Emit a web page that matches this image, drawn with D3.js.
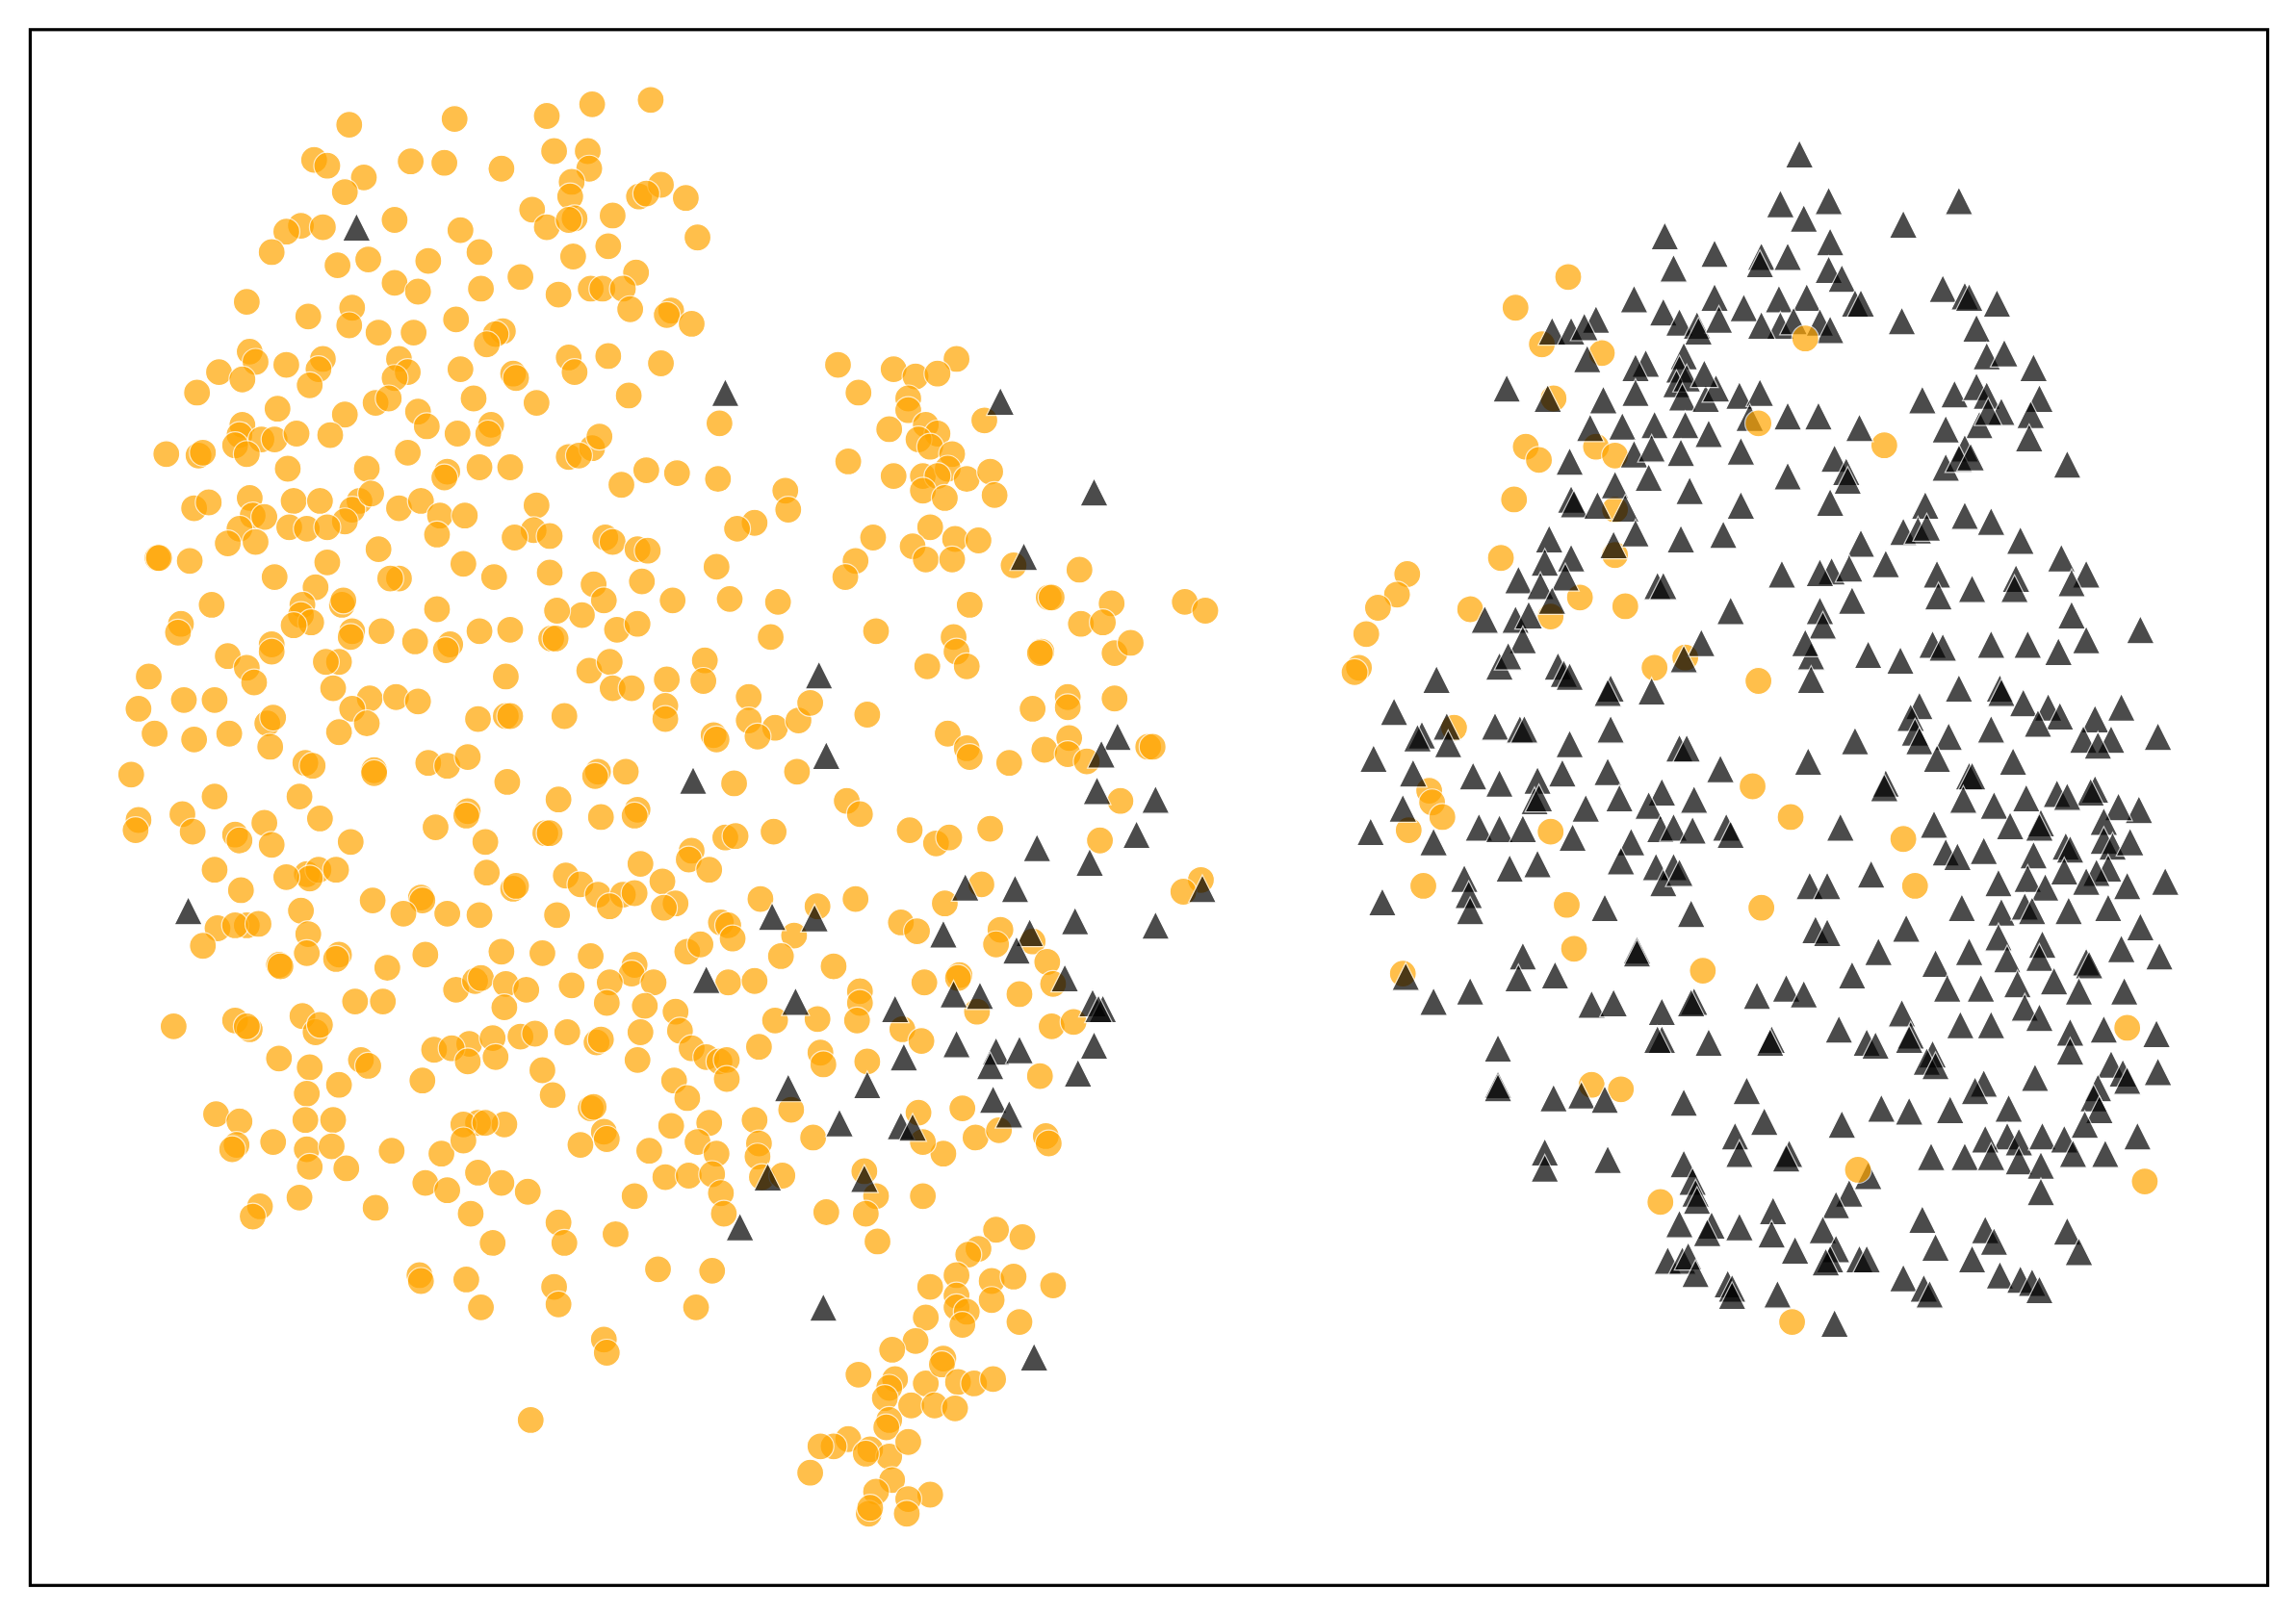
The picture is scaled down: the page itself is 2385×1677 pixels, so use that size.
<!DOCTYPE html>
<html>
<head>
<meta charset="utf-8">
<style>html,body{margin:0;padding:0;background:#fff}svg{display:block}</style>
<script src="https://cdn.jsdelivr.net/npm/d3@7"></script>
</head>
<body>
<script>
const classA = [
[444,68],[404,71],[373,79],[310,81],[238,85],[378,103],[401,103],[402,115],[214,109],[223,113],[280,110],[303,111],[342,115],[248,121],[235,131],[390,124],[389,134],[436,134],[451,126],[468,135],[441,132],[363,143],[418,147],[392,149],[373,155],[388,150],[269,150],[205,154],[195,158],[220,155],[314,157],[476,162],[185,172],[415,168],[327,172],[292,178],[230,181],[251,177],[391,175],[434,186],[269,193],[355,189],[328,197],[285,199],[381,201],[403,197],[411,197],[425,197],[168,206],[210,216],[240,210],[238,222],[430,211],[458,212],[455,215],[472,221],[311,218],[258,227],[282,227],[343,226],[338,228],[332,235],
[170,240],[174,247],[149,254],[165,259],[195,249],[220,245],[217,252],[211,263],[272,245],[278,254],[269,258],[388,244],[392,254],[415,243],[451,248],[350,255],[352,258],[314,252],[134,268],[189,279],[235,283],[256,275],[265,272],[285,281],[291,291],[323,272],[366,275],[429,270],[572,249],[586,268],[610,252],[625,257],[653,245],[640,255],[620,272],[620,280],[491,289],[672,287],
[165,290],[163,297],[160,304],[178,300],[187,300],[202,296],[225,297],[312,296],[335,290],[333,296],[168,310],[113,310],[135,311],[138,309],[250,320],[196,320],[305,322],[303,326],[327,319],[348,319],[388,312],[404,306],[409,298],[395,311],[278,309],[607,293],[632,290],[640,296],[627,300],[635,305],[650,310],[579,315],[441,321],[424,331],[462,323],[490,327],[610,325],
[630,325],[647,320],[640,325],[630,335],[660,327],[676,322],[645,340],[679,338],[536,335],[538,348],[132,347],[142,343],[200,342],[170,340],[218,342],[245,342],[240,348],[253,337],[272,347],[287,342],[300,352],[366,345],
[172,352],[180,353],[163,361],[155,371],[174,370],[197,360],[209,361],[235,356],[223,360],[317,352],[364,362],[351,367],[375,366],[515,357],[503,361],[635,360],[596,367],
[107,381],[108,381],[129,383],[187,394],[223,384],[258,375],[316,385],[298,365],[337,394],[375,391],[413,367],[418,370],[435,375],[442,376],[489,387],[584,383],[577,394],[623,373],[632,382],[652,368],[668,369],[650,382],[692,386],[737,389],
[215,401],[206,413],[272,395],[266,395],[144,413],[123,426],[121,432],[233,413],[234,410],[298,416],[205,420],[212,425],[405,399],[438,397],[412,410],[397,420],[380,417],[459,410],[498,409],[531,411],[662,413],[716,408],[718,408],[809,411],[823,417],[759,412],[738,426],[753,425],
[155,448],[185,440],[185,445],[200,427],[240,431],[239,435],[260,431],[283,438],[307,440],[304,444],[327,431],[348,430],[376,436],[379,436],[421,430],[435,426],[526,435],[598,431],[651,435],[653,445],[660,455],[633,455],[711,445],[710,446],[761,446],[772,439],
[101,462],[168,456],[231,452],[222,452],[173,466],[125,478],[146,478],[94,484],[227,470],[252,477],[270,476],[285,479],[345,462],[402,458],[416,452],[418,470],[431,470],[455,464],[481,451],[480,465],[454,482],[454,491],[511,476],[729,476],[761,477],[729,483],[705,484],
[182,494],[186,490],[240,484],[250,494],[326,491],[345,489],[348,489],[385,489],[592,488],[511,492],[529,497],[545,492],[553,480],[487,502],[489,505],[517,503],[647,501],[730,504],[105,501],[132,505],[156,501],[184,510],[231,500],
[660,511],[662,517],[713,512],[729,515],[742,520],[784,510],[787,510],[689,521],[544,527],
[89,529],[208,521],[213,523],[255,526],[292,521],[305,523],[319,517],[346,534],[408,527],[427,527],[406,530],[501,535],[255,528],
[146,544],[204,544],[381,546],[578,547],[587,556],[765,547],[124,556],[94,560],[92,567],[131,568],[180,562],[218,559],[319,554],[318,557],[297,565],[410,558],[435,553],[433,557],
[372,569],[375,569],[495,572],[502,571],[528,568],[621,567],[639,576],[648,572],[676,566],[751,574],[160,570],[163,574],[185,577],[239,575],[331,575],
[472,581],[470,587],[146,594],[209,597],[217,594],[229,594],[211,600],[332,596],[386,598],[396,604],[408,611],[437,590],[484,594],[452,602],[820,601],[808,609],[670,604],
[164,608],[287,613],[254,615],[350,607],[352,605],[425,611],[433,610],[519,614],[558,619],[584,614],[416,619],[461,617],[288,615],[195,599],
[168,632],[148,634],[160,632],[176,631],[205,622],[210,638],[275,624],[305,624],[327,625],[380,625],[453,620],[492,630],[497,632],[542,639],[615,630],[626,636],[645,617],[683,635],
[138,646],[190,659],[191,660],[209,651],[231,652],[229,655],[264,661],[290,652],[342,650],[370,651],[403,653],[469,650],[478,645],[500,641],[533,653],[569,660],[680,645],[705,643],[715,657],[655,666],[654,668],
[433,659],[431,665],[416,671],[311,676],[324,670],[328,668],[345,672],[359,676],[390,673],[446,671],[497,671],[515,670],[587,677],[631,671],
[242,684],[261,684],[344,688],[414,685],[440,687],[719,672],[696,679],[587,685],[558,696],[667,691],[118,701],[160,697],[170,703],[168,701],[206,694],[215,705],[218,700],[461,691],[529,697],
[296,717],[320,713],[336,709],[355,708],[365,706],[387,705],[407,712],[410,710],[437,705],[464,704],[472,716],[518,715],[585,697],[616,703],[629,711],[718,701],[733,698],
[190,723],[246,724],[251,728],[308,716],[319,725],[338,722],[370,731],[435,724],[482,722],[491,725],[496,724],[560,719],[562,727],[592,725],
[211,729],[231,741],[209,747],[288,738],[377,748],[460,738],[469,750],[496,737],[710,735],
[147,761],[163,766],[403,757],[405,756],[344,768],[326,767],[316,768],[331,767],[412,773],[458,769],[484,767],[515,765],[540,758],[627,760],[657,757],
[161,782],[158,785],[208,765],[227,765],[209,785],[226,783],[186,780],[267,786],[301,788],[316,779],[396,782],[443,786],[476,780],[414,778],[489,788],[518,781],[517,790],[555,777],[644,788],[630,780],[666,777],[682,772],[714,776],[716,781],
[211,797],[236,798],[326,801],[342,808],[360,814],[290,808],[305,813],[454,804],[470,803],[486,802],[492,815],[520,804],[534,803],[590,800],[598,817],[630,817],
[177,824],[172,831],[204,818],[256,825],[321,829],[433,817],[381,835],[385,849],[336,849],[420,843],[494,829],[564,828],[591,829],[599,848],
[680,840],[698,845],[668,853],[661,857],[653,871],[449,867],[486,868],[286,871],[287,875],[318,874],[378,879],[381,891],[328,893],[475,893],
[653,885],[635,879],[677,875],[692,872],[719,878],[677,888],[653,893],[660,896],[632,900],[657,905],[696,903],
[412,915],[414,924],[625,916],[609,922],[644,928],[632,945],[643,932],[611,942],[586,939],[607,948],[654,944],[665,945],[678,942],[604,955],[622,960],[638,960],[652,962],[362,970],[607,970],[605,975],[579,983],[569,988],[560,988],[553,1006],[594,990],[607,995],[591,993],[609,1011],[620,985],[598,1019],[635,1021],[620,1024],[619,1034],[593,1034],[594,1030],
[1035,210],[1053,235],[1094,241],[1061,272],[1090,305],[1042,305],[1051,314],[1287,304],[1103,311],[1034,341],[1103,348],[1103,379],[1025,381],[961,392],[954,406],[941,415],[933,433],[928,456],[925,459],[1004,416],[1079,408],[1110,414],[1059,421],[1130,456],[1151,449],[1201,465],[993,497],[976,540],[978,548],[985,558],[962,567],[972,605],[1059,568],[1197,537],[1223,558],[1300,573],[1308,605],[1203,620],[1070,618],[1075,648],[1163,663],[958,665],[1087,741],[1107,744],[1134,821],[1224,903]
];

const classB = [
[243,155],[495,268],[683,274],[747,336],[699,380],[559,461],[763,503],[564,516],[473,533],[752,515],[749,540],[789,546],[776,570],[708,579],[744,589],[659,606],[693,607],[821,607],[128,622],[527,626],[556,627],[789,632],[734,629],[703,637],[644,638],[694,649],[482,669],[727,668],[651,679],[669,680],[543,684],[611,689],[746,685],[753,689],[750,689],[653,713],[617,722],[680,718],[747,714],[696,717],[676,728],[736,733],[592,741],[538,743],[678,751],[689,761],[573,767],[615,769],[623,770],[524,804],[590,805],[505,838],[562,893],[706,927],
[1229,105],[1216,139],[1249,137],[1338,137],[1300,153],[1137,161],[1232,149],[1171,173],[1203,175],[1221,175],[1143,183],[1250,165],[1249,184],[1258,190],[1202,180],[1116,204],[1171,203],[1191,210],[1215,204],[1234,203],[1327,197],[1342,202],[1345,203],[1364,207],[1267,207],[1271,207],[1299,219],[1136,213],[1147,220],[1159,222],[1174,218],[1160,226],[1090,218],[1060,226],[1073,226],[1082,223],[1216,222],[1203,222],[1225,219],[1243,220],[1250,225],[1350,224],[1357,243],[1369,241],[1389,251],[1084,245],[1124,248],[1150,243],[1147,252],[1117,251],[1145,262],[1152,258],[1029,265],[1057,272],[1095,273],[1117,268],[1149,271],[1165,272],[1172,265],[1188,270],[1202,268],[1164,255],[1313,273],[1335,269],[1350,264],[1357,270],[1367,281],[1393,272],[1387,283],[1086,292],[1108,291],[1130,290],[1151,290],[1195,285],[1221,284],[1242,284],[1270,292],[1329,293],[1352,290],[1358,281],[1386,299],[1412,317],[1116,310],[1128,306],[1148,309],[1167,296],[1189,308],[1253,313],[1342,306],[1329,319],[1338,313],[1346,312],[1072,315],[1103,331],[1126,326],[1221,325],[1261,322],[1262,328],[1073,341],[1075,344],[1091,345],[1110,347],[1154,335],[1189,345],[1250,343],[1315,345],[1342,352],[1360,356],[1300,363],[1310,362],[1316,360],[1058,368],[1117,364],[1148,368],[1177,365],[1271,371],[1380,369],[1055,384],[1073,381],[1102,372],[1288,385],[1408,381],[1425,392],[1415,398],[1037,396],[1052,400],[1069,394],[1132,400],[1136,400],[1217,392],[1251,390],[1263,388],[1243,391],[1323,392],[1347,402],[1377,395],[1376,402],[1060,410],[1014,423],[1035,423],[1044,420],[1182,417],[1243,417],[1265,410],[1324,407],[1415,420],[1462,430],[1425,437],[1245,427],[1162,439],[1040,437],[1024,455],[1064,455],[1068,460],[1072,462],[1150,450],[1320,440],[1327,442],[1360,440],[1385,440],[1406,445],[1237,448],[1276,447],[1298,451],[1233,439],[1030,448],[981,464],[1237,464],[1100,470],[1098,473],[1128,472],[1366,470],[1367,473],[1382,480],[1399,483],[1338,470],[1311,482],[1305,490],[1407,489],[1449,483],[952,486],[988,496],[1021,496],[1038,498],[1041,498],[971,502],[968,504],[1072,508],[1100,498],[989,508],[1267,506],[1308,500],[1311,506],[1331,503],[1360,498],[1392,494],[1431,491],[1423,505],[1442,505],[1474,503],[1433,509],[938,518],[965,528],[1006,530],[1147,511],[1152,511],[1175,525],[1024,535],[1050,533],[1067,528],[1098,527],[1235,520],[1323,518],[1345,530],[1347,530],[1375,520],[1288,535],[1287,538],[1431,539],[1428,541],[1405,542],[1461,553],[1447,551],[958,552],[1048,547],[1051,545],[1135,541],[1106,545],[1126,550],[1157,546],[1083,552],[1341,546],[1362,550],[1384,545],[1412,544],[1394,562],[1393,565],[1437,561],[1010,565],[1024,566],[1040,566],[936,568],[979,575],[1074,572],[1114,575],[1134,566],[1143,565],[1156,567],[1179,565],[1182,570],[1257,565],[1321,563],[1373,564],[1411,578],[1414,580],[1437,574],[1443,578],[1455,575],[1000,600],[1031,593],[1050,590],[1107,588],[1131,592],[1143,592],[1136,603],[1147,596],[1278,597],[1329,582],[1337,585],[1355,581],[1389,584],[1440,593],[1432,596],[1410,595],[1479,602],[1236,605],[1248,605],[1365,603],[1385,600],[1397,606],[1453,605],[1425,602],
[944,616],[1003,611],[1004,622],[1096,620],[1155,624],[1340,620],[1367,623],[1383,619],[1388,622],[1413,622],[1440,620],[1462,633],[1240,635],[1248,637],[1302,634],[1118,649],[1118,651],[1040,653],[1037,668],[1062,666],[1365,640],[1395,645],[1345,650],[1393,654],[1371,655],[1425,657],[1427,659],[1475,653],[1449,648],[1265,666],[1322,658],[1283,650],[960,667],[979,684],[1004,677],[1087,686],[1102,685],[1135,691],[1157,684],[1155,685],[1200,680],[1220,675],[1232,679],[1299,692],[1330,675],[1353,675],[1378,672],[1403,670],[1451,677],[1420,677],[1383,688],[1135,710],[1132,710],[1167,712],[1210,710],[1209,712],[1256,703],[1275,712],[1281,714],[1305,707],[1304,710],[1339,700],[1360,700],[1393,695],[1414,705],[1473,706],[1437,703],[1023,716],[1320,720],[1316,725],[1322,728],[1414,718],[1442,727],[1474,732],[1450,733],[1453,738],[1023,741],[1023,743],[1061,750],[1080,748],[1096,751],[1150,753],[1193,745],[1390,736],[1355,740],[1349,745],[1332,758],[1433,743],[1430,750],[1205,766],[1258,768],[1285,757],[1304,759],[1372,757],[1434,758],[1424,768],[1460,776],[1185,776],[1371,776],[1379,780],[1356,778],[1395,776],[1410,778],[1055,787],[1055,798],[1098,792],[1150,795],[1222,788],[1220,791],[1188,788],[1319,790],[1342,790],[1360,790],[1379,793],[1394,796],[1416,788],[1438,788],[1156,807],[1158,815],[1159,820],[1263,815],[1276,803],[1254,823],[1313,833],[1394,814],[1211,827],[1147,836],[1169,837],[1166,842],[1188,838],[1245,840],[1356,840],[1412,841],[1420,855],[1210,843],[1322,852],[1362,848],[1254,853],[1139,861],[1149,861],[1153,858],[1158,870],[1226,854],[1250,860],[1247,862],[1270,860],[1275,860],[1347,860],[1180,877],[1183,880],[1183,885],[1214,884],[1300,873],[1314,880],[1318,884],[1366,871],[1380,874],[1388,876],[1393,881],[1253,904]
];

// Orange points that sit above the triangles in the reference
const classAOver = [[1071,189],[1233,231],[1201,289],[1453,702],[1465,807],[1269,799]];

const W = 2385, H = 1677;
const xDomain = [20, 1549], yDomain = [20, 1083];
const x = d3.scaleLinear().domain(xDomain).range([31.4, 2355.6]);
const y = d3.scaleLinear().domain(yDomain).range([30.8, 1647.3]);

const svg = d3.select("body").append("svg").attr("width", W).attr("height", H);
svg.append("rect").attr("width", W).attr("height", H).attr("fill", "#fff");

const triangleType = {
  draw(ctx, size) {
    const s = Math.sqrt(size) / 2;
    ctx.moveTo(0, -s); ctx.lineTo(s, s); ctx.lineTo(-s, s); ctx.closePath();
  }
};
const tri = d3.symbol().type(triangleType).size(29 * 29);

function circles(g, data) {
  g.selectAll("circle").data(data).join("circle")
    .attr("cx", d => x(d[0])).attr("cy", d => y(d[1])).attr("r", 14)
    .attr("fill", "#ffa500").attr("stroke", "#fff").attr("stroke-width", 1.2)
    .attr("opacity", 0.7);
}
circles(svg.append("g"), classA);

svg.append("g").selectAll("path").data(classB).join("path")
  .attr("d", tri)
  .attr("transform", d => `translate(${x(d[0])},${y(d[1])})`)
  .attr("fill", "#000").attr("stroke", "#fff").attr("stroke-width", 1.2)
  .attr("stroke-linejoin", "miter").attr("opacity", 0.7);

circles(svg.append("g"), classAOver);

svg.append("rect")
  .attr("x", x(xDomain[0])).attr("y", y(yDomain[0]))
  .attr("width", x(xDomain[1]) - x(xDomain[0]))
  .attr("height", y(yDomain[1]) - y(yDomain[0]))
  .attr("fill", "none").attr("stroke", "#000").attr("stroke-width", 3.2);
</script>
</body>
</html>
